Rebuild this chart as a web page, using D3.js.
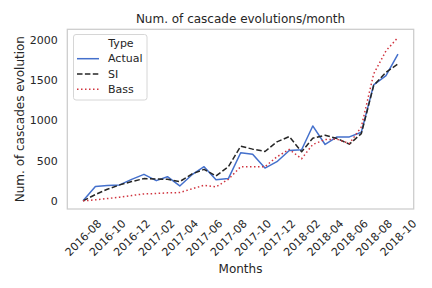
<!DOCTYPE html>
<html><head><meta charset="utf-8">
<script src="https://cdn.jsdelivr.net/npm/d3@7"></script>
<style>body{margin:0;background:#fff}svg{font-family:"DejaVu Sans",sans-serif}</style>
</head><body><svg id="c" width="432" height="288"></svg>
<script>
const months = ["2016-08","2016-09","2016-10","2016-11","2016-12","2017-01","2017-02","2017-03","2017-04","2017-05","2017-06","2017-07","2017-08","2017-09","2017-10","2017-11","2017-12","2018-01","2018-02","2018-03","2018-04","2018-05","2018-06","2018-07","2018-08","2018-09","2018-10"];
const actual = [0,177,189,198,267,329,251,300,185,321,424,263,276,597,580,407,486,625,634,930,700,794,794,852,1440,1556,1823];
const si = [0,78,144,198,239,276,272,267,239,333,391,309,424,679,642,613,732,798,609,778,815,774,704,835,1432,1597,1700];
const bass = [0,12,29,45,66,86,91,99,103,148,193,173,267,424,424,424,547,638,523,700,761,765,712,918,1576,1864,2029];
const xTickLabels = ["2016-08","2016-10","2016-12","2017-02","2017-04","2017-06","2017-08","2017-10","2017-12","2018-02","2018-04","2018-06","2018-08","2018-10"];
const yTicks = [0,500,1000,1500,2000];
const seriesNames = ["Actual","SI","Bass"];

const parse = d3.timeParse("%Y-%m");
const dates = months.map(parse);
const L = 67.3, R = 413.7, T = 29.3, B = 209;
const svg = d3.select("#c");
const t0 = +dates[0], t1 = +dates[dates.length-1], span = t1 - t0;
const x = d3.scaleTime().domain([new Date(t0 - 0.05*span), new Date(t1 + 0.05*span)]).range([L, R]);
const allV = actual.concat(si, bass);
const vmin = d3.min(allV), vmax = d3.max(allV), vs = vmax - vmin;
const y = d3.scaleLinear().domain([vmin - 0.05*vs, vmax + 0.05*vs]).range([B, T]);

// frame
svg.append("rect").attr("x", L).attr("y", T).attr("width", R-L).attr("height", B-T)
  .attr("fill", "none").attr("stroke", "#cccccc").attr("stroke-width", 1.25);

const series = [
  {name:"Actual", vals: actual, color:"#4470cc", dash:null},
  {name:"SI", vals: si, color:"#262626", dash:"5.5,2.4"},
  {name:"Bass", vals: bass, color:"#d0343f", dash:"1.5,2.5"}
];
const line = d3.line().x((d,i)=>x(dates[i])).y(d=>y(d));
series.forEach(s => {
  svg.append("path").attr("d", line(s.vals)).attr("fill","none")
    .attr("stroke", s.color).attr("stroke-width", 1.5)
    .attr("stroke-dasharray", s.dash).attr("stroke-linejoin","round");
});

// y axis
const yAxis = d3.axisLeft(y).tickValues(yTicks).tickSize(0).tickPadding(9.5).tickFormat(d3.format("d"));
const gy = svg.append("g").attr("transform", `translate(${L},0)`).call(yAxis);
gy.select(".domain").remove();
gy.selectAll("text").attr("font-size", 11).attr("fill", "#262626").attr("font-family","DejaVu Sans");

// x axis
const xAxis = d3.axisBottom(x).tickValues(xTickLabels.map(parse)).tickSize(0).tickFormat(d3.timeFormat("%Y-%m"));
const gx = svg.append("g").attr("transform", `translate(0,${B})`).call(xAxis);
gx.select(".domain").remove();
gx.selectAll("text").attr("font-size", 11).attr("fill", "#262626").attr("font-family","DejaVu Sans")
  .attr("text-anchor","middle").attr("dy", null).attr("y", 0)
  .attr("transform", "translate(0,29) rotate(-45)").attr("dominant-baseline","central");

// labels
svg.append("text").attr("x", (L+R)/2).attr("y", 23).attr("text-anchor","middle")
  .attr("font-size", 12).attr("fill","#262626").text("Num. of cascade evolutions/month");
svg.append("text").attr("x", (L+R)/2).attr("y", 272.5).attr("text-anchor","middle")
  .attr("font-size", 12).attr("fill","#262626").text("Months");
svg.append("text").attr("transform", `translate(24,${(T+B)/2}) rotate(-90)`).attr("text-anchor","middle")
  .attr("font-size", 12).attr("fill","#262626").text("Num. of cascades evolution");

// legend
const lg = svg.append("g");
lg.append("rect").attr("x", 73.5).attr("y", 34.5).attr("width", 73.5).attr("height", 65.5)
  .attr("rx", 2.5).attr("fill","#fff").attr("fill-opacity",0.8).attr("stroke","#d6d6d6").attr("stroke-width",1);
lg.append("text").attr("x", 121).attr("y", 43.5).attr("dominant-baseline","central").attr("text-anchor","middle").attr("font-size",11).attr("fill","#262626").text("Type");
series.forEach((s,i) => {
  const yy = 58.7 + i*15.3;
  lg.append("line").attr("x1", 77).attr("x2", 99).attr("y1", yy).attr("y2", yy)
    .attr("stroke", s.color).attr("stroke-width",1.5).attr("stroke-dasharray", s.dash);
  lg.append("text").attr("x", 108).attr("y", yy).attr("dominant-baseline","central")
    .attr("font-size",11).attr("fill","#262626").text(seriesNames[i]);
});
</script></body></html>
